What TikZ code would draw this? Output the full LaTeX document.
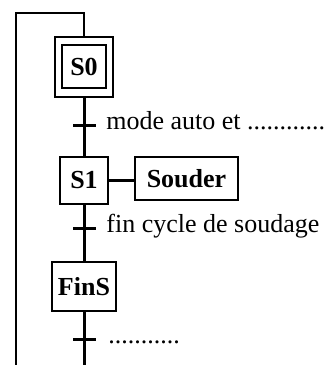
\documentclass[tikz,border=0pt]{standalone}
\usepackage{fontspec}
\setmainfont{Liberation Serif}
\begin{document}
\begin{tikzpicture}[x=0.5pt,y=-0.5pt,
  stepbox/.style={draw,line width=0.75pt,inner sep=0pt,font=\fontsize{13}{15}\selectfont\bfseries},
  mainline/.style={line width=1.5pt},
  loopline/.style={line width=1pt},
  cond/.style={anchor=mid west,inner sep=0pt,font=\fontsize{13}{15}\selectfont}]
\useasboundingbox (0,0) rectangle (330,365);
% steps
\node[stepbox,minimum width=29pt,minimum height=30pt] (S0o) at (84,67) {};
\node[stepbox,minimum width=22pt,minimum height=21.5pt] (S0) at (84,66.5) {S0};
\node[stepbox,minimum width=24pt,minimum height=23.5pt] (S1) at (84,180.5) {S1};
\node[stepbox,minimum width=51.5pt,minimum height=21.5pt] (A1) at (186.5,178.5) {Souder};
\node[stepbox,minimum width=32pt,minimum height=24.5pt] (FinS) at (84,286.5) {FinS};
% transitions
\coordinate (t1) at (84,125);
\coordinate (t2) at (84,228);
\coordinate (t3) at (84,339);
\coordinate (bot) at (84,365);
\coordinate (lb) at (16,365);
\coordinate (tl) at (16,12.7);
\coordinate (tr) at (84,12.7);
% main links
\draw[mainline] (S0o.south) -- (S1.north);
\draw[mainline] (S1.south) -- (FinS.north);
\draw[mainline] (FinS.south) -- (bot);
\draw[mainline] (S1.east) -- (A1.west |- S1.east);
\draw[loopline] (lb) -- (tl) -- (tr) -- (S0o.north);
% ticks
\foreach \t in {t1,t2,t3}{
  \draw[mainline] ([xshift=-5.5pt]\t) -- ([xshift=6pt]\t);
}
% conditions
\node[cond] (c1) at (106,125) {mode auto et ............};
\node[cond] (c2) at (106,228) {fin cycle de soudage};
\node[cond] (c3) at (108,339) {...........};
\end{tikzpicture}
\end{document}
